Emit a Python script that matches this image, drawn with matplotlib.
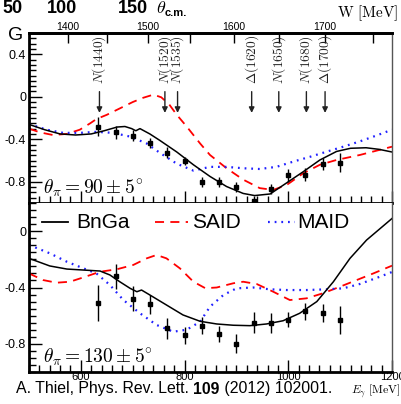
import numpy as np
import matplotlib
matplotlib.use("Agg")
import matplotlib.pyplot as plt
from matplotlib.ticker import MultipleLocator, FixedLocator
import matplotlib.transforms as mtrans

plt.rcParams['font.family'] = ['Liberation Sans', 'DejaVu Sans']
plt.rcParams['mathtext.fontset'] = 'cm'

# ---------------- data ----------------
E_data = [633, 667, 700, 733, 767, 800, 833, 867, 900, 933, 967, 1000, 1033, 1067, 1100]
G90 = [-0.28, -0.335, -0.365, -0.435, -0.525, -0.605, -0.80, -0.80, -0.85, -0.98,
       -0.87, -0.74, -0.735, -0.635, -0.62]
G90_err = [0.09, 0.06, 0.055, 0.05, 0.05, 0.04, 0.045, 0.045, 0.045, 0.05,
           0.05, 0.06, 0.06, 0.055, 0.09]
G130 = [-0.51, -0.32, -0.48, -0.52, -0.69, -0.74, -0.67, -0.73, -0.80, -0.65,
        -0.65, -0.63, -0.57, -0.58, -0.63]
G130_err = [0.13, 0.09, 0.09, 0.065, 0.075, 0.06, 0.063, 0.06, 0.067, 0.075,
            0.07, 0.053, 0.06, 0.065, 0.097]

# model curves, theta = 90
E_bnga90 = [500, 530, 560, 590, 620, 645, 670, 685, 698, 706, 714, 733, 752, 785, 817,
            849, 881, 913, 935, 965, 997, 1029, 1061, 1093, 1120, 1150, 1175, 1200]
G_bnga90 = [-0.26, -0.31, -0.35, -0.36, -0.35, -0.32, -0.285, -0.28, -0.30, -0.32, -0.30,
            -0.35, -0.41, -0.52, -0.64, -0.75, -0.845, -0.91, -0.93, -0.915, -0.81,
            -0.705, -0.595, -0.515, -0.485, -0.48, -0.495, -0.52]
E_said90 = [500, 521, 546, 573, 598, 618, 630, 650, 675, 700, 720, 740, 755, 770, 785,
            804, 830, 849, 881, 913, 945, 971, 997, 1029, 1061, 1093, 1138, 1200]
G_said90 = [-0.30, -0.335, -0.36, -0.35, -0.31, -0.25, -0.21, -0.17, -0.11, -0.05, -0.01,
            0.02, -0.005, -0.07, -0.17, -0.28, -0.44, -0.548, -0.673, -0.78, -0.86,
            -0.877, -0.83, -0.72, -0.64, -0.595, -0.548, -0.47]
E_maid90 = [500, 534, 566, 598, 630, 662, 695, 727, 753, 785, 817, 849, 881, 913, 945,
            977, 1010, 1042, 1074, 1106, 1138, 1170, 1200]
G_maid90 = [-0.256, -0.31, -0.34, -0.34, -0.33, -0.34, -0.375, -0.44, -0.53, -0.63,
            -0.695, -0.66, -0.66, -0.673, -0.68, -0.66, -0.61, -0.565, -0.517, -0.47,
            -0.42, -0.365, -0.31]

# model curves, theta = 130
E_bnga130 = [500, 540, 573, 605, 637, 656, 675, 695, 708, 717, 733, 765, 797, 830, 862,
             894, 926, 958, 990, 1022, 1055, 1087, 1119, 1151, 1200]
G_bnga130 = [-0.193, -0.247, -0.269, -0.276, -0.283, -0.311, -0.359, -0.406, -0.43,
             -0.418, -0.453, -0.524, -0.595, -0.64, -0.659, -0.668, -0.671, -0.659,
             -0.636, -0.583, -0.50, -0.359, -0.193, -0.063, 0.09]
E_said130 = [500, 527, 553, 579, 605, 637, 669, 701, 727, 746, 765, 791, 817, 840, 862,
             894, 913, 939, 971, 1003, 1035, 1067, 1100, 1132, 1164, 1200]
G_said130 = [-0.30, -0.347, -0.366, -0.359, -0.328, -0.288, -0.271, -0.24, -0.193,
             -0.169, -0.193, -0.264, -0.359, -0.405, -0.40, -0.37, -0.359, -0.375,
             -0.43, -0.489, -0.477, -0.441, -0.394, -0.347, -0.30, -0.245]
E_maid130 = [500, 540, 573, 605, 630, 656, 682, 714, 746, 778, 804, 830, 849, 875, 900,
             932, 965, 997, 1035, 1074, 1106, 1138, 1177, 1200]
G_maid130 = [-0.098, -0.157, -0.217, -0.264, -0.30, -0.382, -0.489, -0.583, -0.666,
             -0.714, -0.70, -0.643, -0.536, -0.453, -0.406, -0.40, -0.413, -0.418,
             -0.418, -0.413, -0.406, -0.375, -0.323, -0.29]

res_names = [r'$N(1440)$', r'$N(1520)$', r'$N(1535)$', r'$\Delta(1620)$',
             r'$N(1650)$', r'$N(1680)$', r'$\Delta(1700)$']
res_W = [1440, 1520, 1535, 1620, 1650, 1680, 1700]
W_ticks = [1400, 1500, 1600, 1700]
header_labels = ['50', '100', '150']

MP = 938.27


def E_to_W(E):
    E = np.asarray(E, dtype=float)
    return np.sqrt(np.maximum(MP**2 + 2 * MP * E, 1.0))


def W_to_E(W):
    W = np.asarray(W, dtype=float)
    return (W**2 - MP**2) / (2 * MP)


# ---------------- figure ----------------
W_px, H_px = 402, 404
fig = plt.figure(figsize=(W_px / 100, H_px / 100), dpi=100)
L, R = 29, 392
ax1 = fig.add_axes([L / W_px, 1 - 203 / H_px, (R - L) / W_px, 170 / H_px])
ax2 = fig.add_axes([L / W_px, 1 - 372 / H_px, (R - L) / W_px, 169 / H_px])


def fx(px):
    return px / W_px


def fy(py):
    return 1 - py / H_px


for ax in (ax1, ax2):
    ax.set_xlim(500, 1200)
    for s in ('left', 'bottom', 'top'):
        ax.spines[s].set_linewidth(2.0)
        ax.spines[s].set_color('black')
    ax.spines['right'].set_linewidth(1.0)
    ax.spines['right'].set_color('#555555')
    ax.xaxis.set_major_locator(MultipleLocator(200))
    ax.xaxis.set_minor_locator(MultipleLocator(20))
    ax.yaxis.set_major_locator(MultipleLocator(0.4))
    ax.yaxis.set_minor_locator(MultipleLocator(0.05))
    ax.tick_params(axis='both', which='major', direction='in', length=9, width=1,
                   top=False, right=False, labelsize=9, pad=2)
    ax.tick_params(axis='both', which='minor', direction='in', length=5, width=1,
                   top=False, right=False)

ax1.set_ylim(-1.0, 0.6)
ax2.set_ylim(-1.0, 0.2)
ax1.set_yticks([-0.8, -0.4, 0, 0.4])
ax1.set_yticklabels(['-0.8', '-0.4', '0', '0.4'])
ax2.set_yticks([-0.8, -0.4, 0])
ax2.set_yticklabels(['-0.8', '-0.4', '0'])
ax1.tick_params(axis='x', labelbottom=False)
ax2.set_xticks([600, 800, 1000, 1200])
ax2.tick_params(axis='x', labelsize=8, pad=0)
ax2.spines['top'].set_visible(False)

# top W axis
sec = ax1.secondary_xaxis('top', functions=(E_to_W, W_to_E))
sec.set_xticks(W_ticks)
sec.xaxis.set_minor_locator(FixedLocator([1450, 1550, 1650, 1750]))
sec.tick_params(axis='x', which='major', direction='in', length=7, width=1,
                labelsize=7.5, pad=1)
sec.tick_params(axis='x', which='minor', direction='in', length=7, width=1)
sec.spines['top'].set_linewidth(2.0)

red = '#ff0000'
blue = '#2020ff'
dash = (0, (5, 3.5))
dot = (0, (0.8, 2.2))

# theta 90 panel
ax1.plot(E_said90, G_said90, color=red, lw=1.3, ls=dash)
ax1.plot(E_maid90, G_maid90, color=blue, lw=1.6, ls=dot)
ax1.plot(E_bnga90, G_bnga90, color='black', lw=1.1)
ax1.errorbar(E_data, G90, yerr=G90_err, fmt='s', ms=3.2, color='black', ecolor='black',
             elinewidth=1.0, capsize=0, clip_on=False, zorder=5)

# theta 130 panel
ax2.plot(E_said130, G_said130, color=red, lw=1.3, ls=dash)
ax2.plot(E_maid130, G_maid130, color=blue, lw=1.6, ls=dot)
ax2.plot(E_bnga130, G_bnga130, color='black', lw=1.1)
ax2.errorbar(E_data, G130, yerr=G130_err, fmt='s', ms=3.2, color='black', ecolor='black',
             elinewidth=1.0, capsize=0, clip_on=False, zorder=5)

# resonance labels and arrows
tr = mtrans.blended_transform_factory(ax1.transData, ax1.transAxes)
for name, Wr in zip(res_names, res_W):
    Er = float(W_to_E(Wr))
    ax1.text(Er, 0.99, name, transform=tr, rotation=90, ha='center', va='top',
             fontsize=9.7, color='#222222')
    ax1.annotate('', xy=(Er, 0.53), xycoords=tr, xytext=(Er, 0.655), textcoords=tr,
                 arrowprops=dict(arrowstyle='-|>', color='#222222', lw=1.0,
                                 mutation_scale=8, shrinkA=0, shrinkB=0))

ax1.text(0.038, 0.055, r'$\theta_\pi = 90 \pm 5^{\circ}$', transform=ax1.transAxes,
         fontsize=14, ha='left', va='baseline')
ax2.text(0.038, 0.055, r'$\theta_\pi = 130 \pm 5^{\circ}$', transform=ax2.transAxes,
         fontsize=14, ha='left', va='baseline')

# legend (manual, in bottom panel)
ly = fy(222)
fig.add_artist(plt.Line2D([fx(42), fx(68)], [ly, ly], color='black', lw=1.3))
fig.text(fx(76), ly, 'BnGa', fontsize=15, va='center', ha='left')
fig.add_artist(plt.Line2D([fx(155), fx(188)], [ly, ly], color=red, lw=1.3, ls=dash))
fig.text(fx(192), ly, 'SAID', fontsize=15, va='center', ha='left')
fig.add_artist(plt.Line2D([fx(268), fx(295)], [ly, ly], color=blue, lw=1.6, ls=dot))
fig.text(fx(297), ly, 'MAID', fontsize=15, va='center', ha='left')

# other texts
fig.text(fx(8), fy(35), 'G', fontsize=14, va='center', ha='left')
fig.text(fx(398), fy(13), r'$\mathrm{W\ [MeV]}$', fontsize=11, ha='right', va='center')
fig.text(fx(400), fy(391), r'$E_\gamma\ \mathrm{[MeV]}$', fontsize=8.5, ha='right',
         va='center')

# citation with bold volume number
cy = fy(389)
fig.canvas.draw()
renderer = fig.canvas.get_renderer()
parts = [('A. Thiel, Phys. Rev. Lett. ', 'normal'), ('109', 'bold'),
         (' (2012) 102001.', 'normal')]
xcur = fx(16)
for s, wt in parts:
    t = fig.text(xcur, cy, s, fontsize=11.4, ha='left', va='center', fontweight=wt)
    bb = t.get_window_extent(renderer)
    xcur = bb.x1 / fig.bbox.width

# clipped header from panel above
for s, xp in zip(header_labels, [2, 47, 118]):
    fig.text(fx(xp), fy(13), s, fontsize=13, fontweight='bold', ha='left', va='baseline')
fig.text(fx(156), fy(13), r'$\theta$', fontsize=13, ha='left', va='baseline')
fig.text(fx(165), fy(16), 'c.m.', fontsize=8, fontweight='bold', ha='left',
         va='baseline')

fig.savefig('out.png', dpi=100)
